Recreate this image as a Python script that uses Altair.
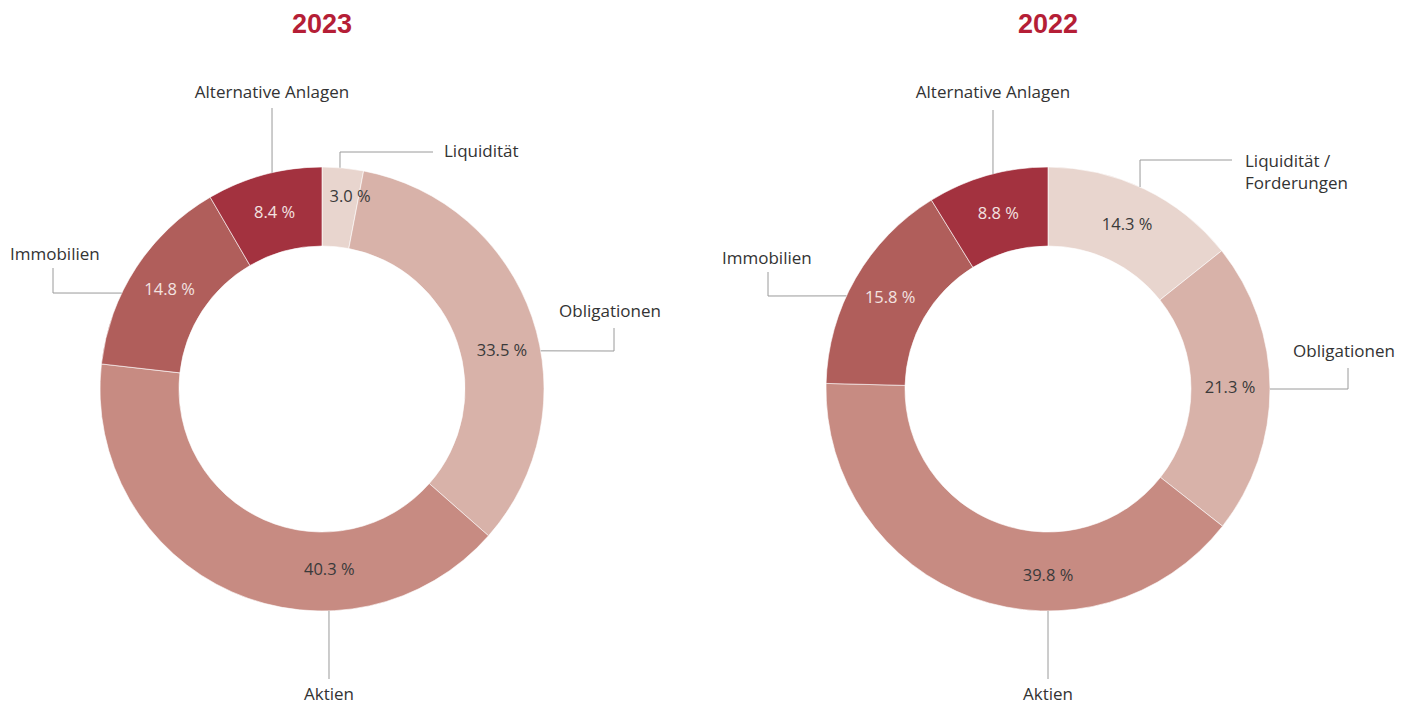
import math
import altair as alt
import pandas as pd

# ---------------- data ----------------
years = ["2023", "2022"]
categories = ["Liquidität", "Obligationen", "Aktien", "Immobilien", "Alternative Anlagen"]
values_2023 = [3.0, 33.5, 40.3, 14.8, 8.4]
values_2022 = [14.3, 21.3, 39.8, 15.8, 8.8]
label_names_2023 = ["Liquidität", "Obligationen", "Aktien", "Immobilien", "Alternative Anlagen"]
label_names_2022 = ["Liquidität /\nForderungen", "Obligationen", "Aktien", "Immobilien", "Alternative Anlagen"]

# ---------------- styles / layout ----------------
W, H = 1413, 704
colors = ["#e8d5ce", "#d8b2a9", "#c78b82", "#b05e5b", "#a3323f"]
pct_text_colors = ["#3a3a3a", "#3a3a3a", "#3a3a3a", "#f3e3e1", "#f3e3e1"]
title_color = "#b51e36"
leader_color = "#9a9a9a"
FONT = "Open Sans"
R_OUT, R_IN = 222, 143
centers = {"2023": (322, 389), "2022": (1048, 389)}

# percent label placement overrides (angle deg, radius); None -> mid angle
pct_pos = {
    "2023": [(8.3, 194), (78, 184), (177.7, 181), None, None],
    "2022": [None, None, (180, 187), None, None],
}
# leader geometry: edge angle (deg), further points relative to center,
# label anchor relative to center and alignment
leaders = {
    "2023": [
        (4.65, [(18, -237), (111, -237)], (122, -237), "left"),
        (80.1, [(292, -38), (292, -61)], (288, -77), "center"),
        (178.2, [(7, 290)], (7, 306), "center"),
        (295.6, [(-269, -96), (-269, -121)], (-312, -134), "left"),
        (347.0, [(-50, -281)], (-50, -296), "center"),
    ],
    "2022": [
        (24.5, [(92, -229), (184, -229)], (197, -227), "left"),
        (90.0, [(300, 0), (300, -21)], (296, -37), "center"),
        (180.0, [(0, 290)], (0, 306), "center"),
        (294.8, [(-280, -93), (-280, -117)], (-326, -130), "left"),
        (345.65, [(-55, -279)], (-55, -296), "center"),
    ],
}

# ---------------- build tables ----------------
arc_rows, pct_rows, line_rows, lab_rows, title_rows = [], [], [], [], []
for year, vals, names in [("2023", values_2023, label_names_2023), ("2022", values_2022, label_names_2022)]:
    cx, cy = centers[year]
    title_rows.append({"x": cx, "y": 25, "t": year})
    cum = 0.0
    for i, (cat, v) in enumerate(zip(categories, vals)):
        start, end = cum, cum + v
        cum = end
        arc_rows.append({"year": year, "cat": cat, "start": start, "end": end,
                         "cx": cx, "cy": cy, "color": colors[i]})
        pp = pct_pos[year][i]
        if pp is None:
            ang, r = (start + end) / 2 * 3.6, 182
        else:
            ang, r = pp
        a = math.radians(ang)
        pct_rows.append({"x": cx + r * math.sin(a), "y": cy - r * math.cos(a),
                         "t": f"{v:.1f} %", "c": pct_text_colors[i]})
        edge_ang, pts, lab, al = leaders[year][i]
        ea = math.radians(edge_ang)
        path = [(R_OUT * math.sin(ea), -R_OUT * math.cos(ea))] + pts
        for k, (dx, dy) in enumerate(path):
            line_rows.append({"id": f"{year}-{i}", "ord": k, "x": cx + dx, "y": cy + dy})
        lab_rows.append({"x": cx + lab[0], "y": cy + lab[1], "t": names[i], "align": al})

arcs = pd.DataFrame(arc_rows)
pcts = pd.DataFrame(pct_rows)
lines = pd.DataFrame(line_rows)
labs = pd.DataFrame(lab_rows)
titles = pd.DataFrame(title_rows)

xs = alt.Scale(domain=[0, W], range=[0, W], nice=False, zero=False)
ys = alt.Scale(domain=[0, H], range=[0, H], nice=False, zero=False)
X = lambda f: alt.X(f"{f}:Q", scale=xs, axis=None)
Y = lambda f: alt.Y(f"{f}:Q", scale=ys, axis=None)

arc_layer = alt.Chart(arcs).mark_arc(innerRadius=R_IN, outerRadius=R_OUT, stroke="white",
                                     strokeWidth=0.6).encode(
    x=X("cx"), y=Y("cy"),
    theta=alt.Theta("start:Q", scale=alt.Scale(domain=[0, 100], range=[0, 2 * math.pi]), stack=None),
    theta2="end:Q",
    color=alt.Color("color:N", scale=None),
)

line_layer = alt.Chart(lines).mark_line(color=leader_color, strokeWidth=1).encode(
    x=X("x"), y=Y("y"), detail="id:N", order="ord:Q")

pct_layer = alt.Chart(pcts).mark_text(font=FONT, fontSize=16.5, align="center", baseline="middle").encode(
    x=X("x"), y=Y("y"), text="t:N", color=alt.Color("c:N", scale=None))

lab_left = alt.Chart(labs[labs["align"] == "left"]).mark_text(
    font=FONT, fontSize=17, align="left", baseline="middle", color="#333333", lineBreak="\n", lineHeight=22
).encode(x=X("x"), y=Y("y"), text="t:N")
lab_center = alt.Chart(labs[labs["align"] == "center"]).mark_text(
    font=FONT, fontSize=17, align="center", baseline="middle", color="#333333", lineBreak="\n", lineHeight=22
).encode(x=X("x"), y=Y("y"), text="t:N")

title_layer = alt.Chart(titles).mark_text(
    font="Liberation Sans", fontSize=27, fontWeight="bold", color=title_color,
    align="center", baseline="middle").encode(x=X("x"), y=Y("y"), text="t:N")

chart = alt.layer(arc_layer, line_layer, pct_layer, lab_left, lab_center, title_layer).properties(
    width=W, height=H, padding=0, autosize=alt.AutoSizeParams(type="none"), background="white"
).configure_view(stroke=None)

chart.save("out.html", embed_options={"renderer": "svg", "actions": False})
